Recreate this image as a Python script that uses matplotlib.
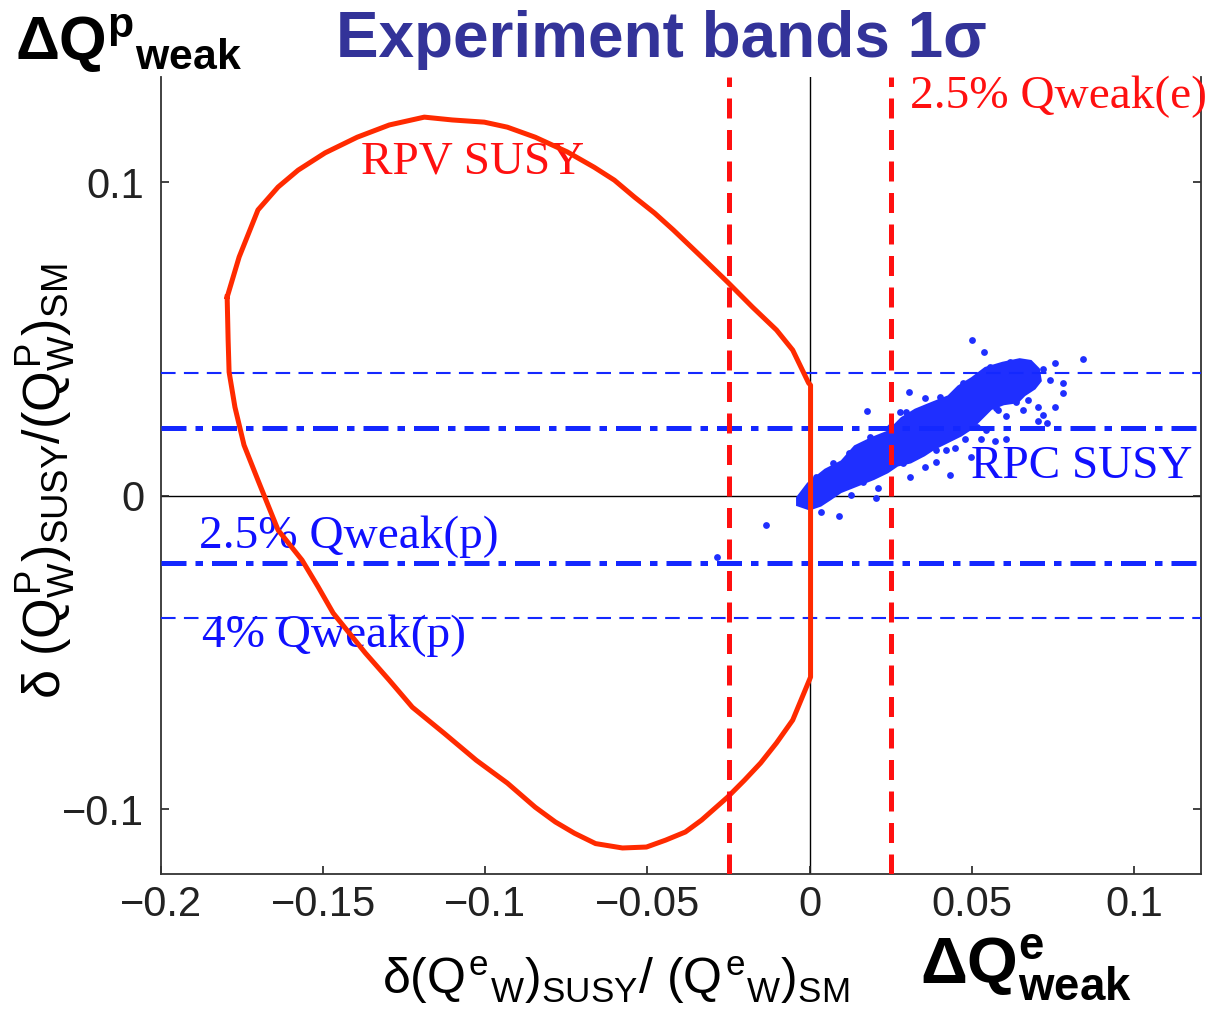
import matplotlib
matplotlib.use('Agg')
import matplotlib.pyplot as plt

plt.rcParams['font.family'] = ['Liberation Sans', 'DejaVu Sans']
plt.rcParams['mathtext.fontset'] = 'custom'
plt.rcParams['mathtext.rm'] = 'Liberation Sans'
plt.rcParams['mathtext.it'] = 'Liberation Sans'
plt.rcParams['mathtext.bf'] = 'Liberation Sans:bold'

# RPV SUSY contour (closed curve)
rpv_x = [-0.1796, -0.1759, -0.1701, -0.1639, -0.1577, -0.1494, -0.1395, -0.1296,
         -0.1188, -0.1102, -0.1003, -0.0932, -0.0846, -0.0747, -0.0664, -0.0602,
         -0.0540, -0.0478, -0.0420, -0.0333, -0.0253, -0.0176, -0.0102, -0.0052,
         -0.0003, 0.0003, 0.0003, -0.0052, -0.0102, -0.0151, -0.0201, -0.0253,
         -0.0333, -0.0383, -0.0444, -0.0503, -0.0577, -0.0660, -0.0725, -0.0784,
         -0.0846, -0.0932, -0.1028, -0.1127, -0.1225, -0.1296, -0.1370, -0.1469,
         -0.1515, -0.1565, -0.1639, -0.1701, -0.1744, -0.1772, -0.1790, -0.1793,
         -0.1796]
rpv_y = [0.0633, 0.0761, 0.0911, 0.0984, 0.1038, 0.1093, 0.1143, 0.1182,
         0.1207, 0.1198, 0.1191, 0.1175, 0.1143, 0.1096, 0.1047, 0.1006,
         0.0952, 0.0901, 0.0847, 0.0761, 0.0681, 0.0601, 0.0528, 0.0464,
         0.0359, 0.0352, -0.0579, -0.0716, -0.0789, -0.0853, -0.0908, -0.0962,
         -0.1035, -0.1073, -0.1099, -0.1121, -0.1124, -0.1110, -0.1077, -0.1041,
         -0.0994, -0.0917, -0.0844, -0.0758, -0.0675, -0.0589, -0.0502, -0.0375,
         -0.0292, -0.0206, -0.0110, 0.0049, 0.0161, 0.0282, 0.0394, 0.0496,
         0.0633]

# RPC SUSY dense core outline
rpc_core_x = [-0.0031, 0.0000, 0.0052, 0.0103, 0.0144, 0.0196, 0.0247, 0.0288,
              0.0329, 0.0381, 0.0432, 0.0463, 0.0504, 0.0545, 0.0597, 0.0648,
              0.0679, 0.0700, 0.0705, 0.0689, 0.0658, 0.0638, 0.0597, 0.0556,
              0.0525, 0.0494, 0.0463, 0.0422, 0.0381, 0.0350, 0.0309, 0.0268,
              0.0237, 0.0195, 0.0144, 0.0093, 0.0062, 0.0031, 0.0000, -0.0031]
rpc_core_y = [-0.0009, 0.0033, 0.0076, 0.0103, 0.0151, 0.0177, 0.0198, 0.0241,
              0.0267, 0.0289, 0.0310, 0.0342, 0.0368, 0.0400, 0.0416, 0.0427,
              0.0422, 0.0400, 0.0368, 0.0347, 0.0326, 0.0305, 0.0299, 0.0283,
              0.0251, 0.0219, 0.0198, 0.0177, 0.0156, 0.0135, 0.0113, 0.0103,
              0.0081, 0.0060, 0.0039, 0.0018, -0.0004, -0.0025, -0.0036, -0.0025]

# RPC SUSY single points (edge of the cloud and outliers)
rpc_x = [0.0502, 0.0537, 0.0842, 0.0756, 0.0720, 0.0306, 0.0177, 0.0278, 0.0741,
         0.0782, 0.0780, 0.0756, 0.0705, 0.0720, 0.0705, 0.0731, 0.0607, 0.0581,
         0.0607, 0.0571, 0.0530, 0.0478, 0.0448, 0.0499, 0.0432, 0.0355, 0.0309,
         0.0211, 0.0129, 0.0036, 0.0090, 0.0206, 0.0648, 0.0674, 0.0638, 0.0355,
         0.0658, -0.0021, 0.0422, 0.0391, 0.0545, -0.0133, -0.0287,
         0.0298, 0.0247, 0.0185, 0.0123, 0.0072, 0.0021, 0.0401, 0.0473, 0.0556,
         0.0617, 0.0576, 0.0515, 0.0391, 0.0288, 0.0165, 0.0041]
rpc_y = [0.0496, 0.0457, 0.0434, 0.0422, 0.0403, 0.0329, 0.0270, 0.0267, 0.0368,
         0.0358, 0.0326, 0.0283, 0.0281, 0.0257, 0.0239, 0.0230, 0.0254, 0.0273,
         0.0182, 0.0175, 0.0179, 0.0182, 0.0151, 0.0124, 0.0065, 0.0092, 0.0060,
         0.0023, 0.0002, -0.0052, -0.0065, -0.0009, 0.0326, 0.0305, 0.0299, 0.0310,
         0.0273, -0.0025, 0.0145, 0.0108, 0.0209, -0.0094, -0.0196,
         0.0267, 0.0219, 0.0188, 0.0135, 0.0103, 0.0060, 0.0315, 0.0358, 0.0411,
         0.0427, 0.0278, 0.0219, 0.0145, 0.0103, 0.0044, -0.0009]

qwe_band = 0.025      # 2.5% Qweak(e)
qwp_band_25 = 0.0215  # 2.5% Qweak(p)
qwp_band_4 = 0.039    # 4% Qweak(p)

x_ticks = [-0.2, -0.15, -0.1, -0.05, 0, 0.05, 0.1]
x_labels = ['\u22120.2', '\u22120.15', '\u22120.1', '\u22120.05', '0', '0.05', '0.1']
y_ticks = [-0.1, 0, 0.1]
y_labels = ['\u22120.1', '0', '0.1']

W, H = 1222, 1010
fig = plt.figure(figsize=(W / 100, H / 100), dpi=100)
ax = fig.add_axes([161 / W, 136 / H, 1040 / W, 797 / H])

ax.axvline(0, color='k', lw=1.0, zorder=1)
ax.axhline(0, color='k', lw=1.0, zorder=1)

blue = '#1f2fff'
ax.fill(rpc_core_x, rpc_core_y, color=blue, lw=5, ec=blue, zorder=2)
ax.scatter(rpc_x, rpc_y, s=24, color=blue, lw=0, zorder=2)

for yv in (qwp_band_4, -qwp_band_4):
    ax.axhline(yv, color='#1428ff', lw=1.5, ls=(0, (7, 4)), zorder=3)
for yv in (qwp_band_25, -qwp_band_25):
    ax.axhline(yv, color='#1428ff', lw=3.6, ls=(0, (5, 1.8, 1.5, 1.8)), zorder=3)

ax.plot(rpv_x, rpv_y, color='#ff2a00', lw=3.6, zorder=4, solid_joinstyle='round')

for xv in (-qwe_band, qwe_band):
    ax.axvline(xv, color='#ff1010', lw=3.6, ls=(0, (4, 2.3)), zorder=5)

ax.set_xlim(-0.2, 0.1207)
ax.set_ylim(-0.1207, 0.1335)
ax.set_xticks(x_ticks)
ax.set_xticklabels(x_labels)
ax.set_yticks(y_ticks)
ax.set_yticklabels(y_labels)
ax.tick_params(direction='in', length=6, width=1.2, labelsize=30,
               right=True, top=False, colors='#222222')
ax.tick_params(axis='x', pad=8)
ax.tick_params(axis='y', pad=12)
ax.spines['top'].set_visible(False)
for s in ('left', 'right', 'bottom'):
    ax.spines[s].set_linewidth(1.3)
    ax.spines[s].set_color('#333333')

serif = ['Liberation Serif', 'DejaVu Serif']
ax.text(-0.104, 0.1064, 'RPV SUSY', color='#ff1010', fontsize=34,
        family=serif, ha='center', va='center')
ax.text(0.0309, 0.1271, '2.5% Qweak(e)', color='#ff1010', fontsize=34,
        family=serif, ha='left', va='center')
ax.text(0.0840, 0.0091, 'RPC SUSY', color='#1010ff', fontsize=34,
        family=serif, ha='center', va='center')
ax.text(-0.1883, -0.0132, '2.5% Qweak(p)', color='#1010ff', fontsize=34,
        family=serif, ha='left', va='center')
ax.text(-0.1873, -0.0448, '4% Qweak(p)', color='#1010ff', fontsize=34,
        family=serif, ha='left', va='center')

fig.text(661 / W, 0.99, 'Experiment bands 1\u03c3', color='#333399', fontsize=46,
         fontweight='bold', ha='center', va='top')

fig.text(15 / W, 0.988, r'$\mathbf{\Delta Q^{p}{}_{weak}}$', fontsize=44,
         ha='left', va='top')
fig.text(920 / W, 0.007, r'$\mathbf{\Delta Q^{e}_{weak}}$', fontsize=47,
         ha='left', va='bottom')

fig.text(616 / W, 0.004, r'$\delta(Q^{e}{}_{W})_{SUSY}/\ (Q^{e}{}_{W})_{SM}$',
         fontsize=36, ha='center', va='bottom')
fig.text(0.012, 0.523, r'$\delta\ (Q^{P}_{W})_{SUSY}/(Q^{P}_{W})_{SM}$',
         fontsize=37.5, rotation=90, ha='left', va='center')

fig.savefig('out.png', dpi=100)
